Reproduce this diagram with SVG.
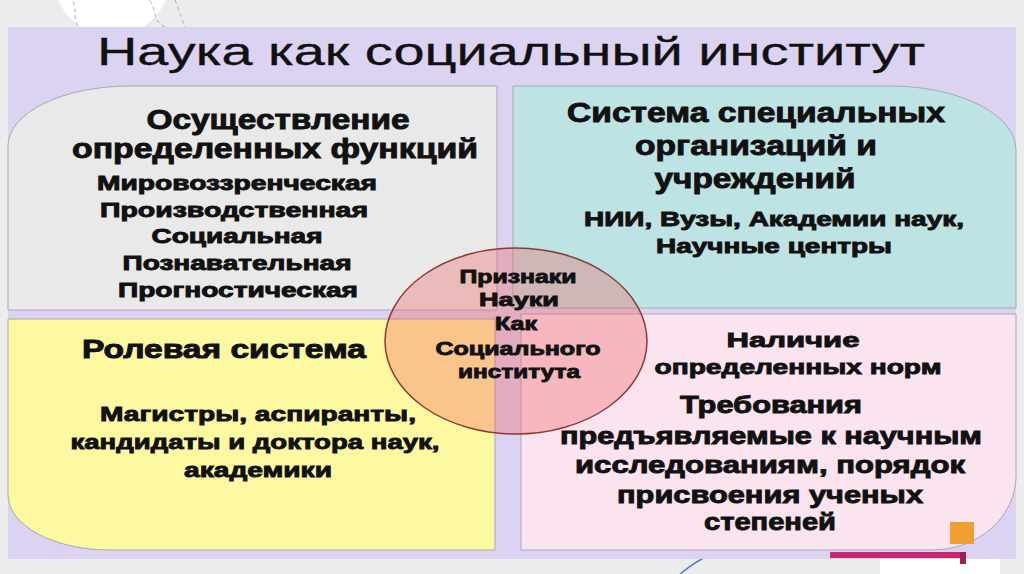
<svg xmlns="http://www.w3.org/2000/svg" width="1024" height="574" viewBox="0 0 1024 574">
<style>
.t{font-family:"Liberation Sans",Arial,sans-serif;font-weight:bold;fill:#111;stroke:#111;stroke-width:0.9;text-anchor:middle}
.q{stroke:#a8a8b0;stroke-width:1}
</style>
<rect width="1024" height="574" fill="#ececec"/>
<g id="decor" fill="none">
<circle cx="112" cy="-22" r="58" fill="#ffffff"/>
<path d="M70,-5 C80,10 70,20 80,27" stroke="#c8a888" stroke-dasharray="4 3"/>
<path d="M145,-5 C160,10 150,20 165,27" stroke="#c8a888" stroke-dasharray="4 3"/>
<path d="M175,0 L185,27" stroke="#c8a888" stroke-dasharray="4 3"/>
<rect x="880" y="559" width="120" height="15" fill="#ffffff"/>
<path d="M680,574 C690,566 698,560 708,556" stroke="#5a78c8" stroke-width="1.5"/>
</g>
<rect id="panel" x="8" y="27" width="1008" height="532" fill="#dcd3f2"/>
<g id="title"><text x="511" y="65" font-family="Liberation Sans,Arial,sans-serif" font-size="38" fill="#111" stroke="#111" stroke-width="0.3" text-anchor="middle" textLength="828" lengthAdjust="spacingAndGlyphs">Наука как социальный институт</text></g>
<g id="node-functions">
<path class="q" d="M8,146 A122,60 0 0 1 130,86 L497,86 L497,310 L8,310 Z" fill="#e9e9e9"/>
<text class="t" x="278" y="129" font-size="27" textLength="263" lengthAdjust="spacingAndGlyphs">Осуществление</text>
<text class="t" x="275" y="158" font-size="27" textLength="406" lengthAdjust="spacingAndGlyphs">определенных функций</text>
<text class="t" x="237" y="190" font-size="20" textLength="280" lengthAdjust="spacingAndGlyphs">Мировоззренческая</text>
<text class="t" x="234" y="217" font-size="20" textLength="268" lengthAdjust="spacingAndGlyphs">Производственная</text>
<text class="t" x="237" y="243" font-size="20" textLength="171" lengthAdjust="spacingAndGlyphs">Социальная</text>
<text class="t" x="237" y="270" font-size="20" textLength="229" lengthAdjust="spacingAndGlyphs">Познавательная</text>
<text class="t" x="238" y="297" font-size="20" textLength="240" lengthAdjust="spacingAndGlyphs">Прогностическая</text>
</g>
<g id="node-organizations">
<path class="q" d="M513,86 L890,86 A126,64 0 0 1 1016,150 L1016,308 L513,308 Z" fill="#bde3e4"/>
<text class="t" x="756" y="122" font-size="27" textLength="378" lengthAdjust="spacingAndGlyphs">Система специальных</text>
<text class="t" x="756" y="155" font-size="27" textLength="242" lengthAdjust="spacingAndGlyphs">организаций и</text>
<text class="t" x="755" y="188" font-size="27" textLength="201" lengthAdjust="spacingAndGlyphs">учреждений</text>
<text class="t" x="774" y="226" font-size="20" textLength="380" lengthAdjust="spacingAndGlyphs">НИИ, Вузы, Академии наук,</text>
<text class="t" x="774" y="253" font-size="20" textLength="236" lengthAdjust="spacingAndGlyphs">Научные центры</text>
</g>
<g id="node-roles">
<path class="q" d="M8,319 L495,319 L495,550 L110,550 A102,55 0 0 1 8,495 Z" fill="#fdf9a0"/>
<text class="t" x="224" y="358" font-size="25" textLength="284" lengthAdjust="spacingAndGlyphs">Ролевая система</text>
<text class="t" x="258" y="421" font-size="21" textLength="316" lengthAdjust="spacingAndGlyphs">Магистры, аспиранты,</text>
<text class="t" x="255" y="449" font-size="21" textLength="369" lengthAdjust="spacingAndGlyphs">кандидаты и доктора наук,</text>
<text class="t" x="258" y="477" font-size="21" textLength="148" lengthAdjust="spacingAndGlyphs">академики</text>
</g>
<g id="node-norms">
<path class="q" d="M521,314 L1016,314 L1016,476 A84,74 0 0 1 932,550 L521,550 Z" fill="#fbe3ef"/>
<text class="t" x="793" y="347" font-size="21" textLength="133" lengthAdjust="spacingAndGlyphs">Наличие</text>
<text class="t" x="798" y="374" font-size="21" textLength="287" lengthAdjust="spacingAndGlyphs">определенных норм</text>
<text class="t" x="771" y="413" font-size="24" textLength="182" lengthAdjust="spacingAndGlyphs">Требования</text>
<text class="t" x="771" y="444" font-size="24" textLength="422" lengthAdjust="spacingAndGlyphs">предъявляемые к научным</text>
<text class="t" x="770" y="473" font-size="24" textLength="390" lengthAdjust="spacingAndGlyphs">исследованиям, порядок</text>
<text class="t" x="770" y="503" font-size="24" textLength="306" lengthAdjust="spacingAndGlyphs">присвоения ученых</text>
<text class="t" x="770" y="530" font-size="24" textLength="132" lengthAdjust="spacingAndGlyphs">степеней</text>
</g>
<g id="decor-br">
<rect x="830" y="552" width="130" height="6" fill="#c8286e"/>
<rect x="950" y="522" width="24" height="22" fill="#f0a030"/>
<rect x="960" y="552" width="6" height="12" fill="#a0205a"/>
</g>
<g id="node-center">
<ellipse cx="516" cy="341" rx="131" ry="93" fill="#f06464" fill-opacity="0.35" stroke="#8a3a3a" stroke-width="1.5"/>
<text class="t" x="518" y="283" font-size="19" textLength="117" lengthAdjust="spacingAndGlyphs">Признаки</text>
<text class="t" x="519" y="306" font-size="19" textLength="80" lengthAdjust="spacingAndGlyphs">Науки</text>
<text class="t" x="516" y="330" font-size="19" textLength="42" lengthAdjust="spacingAndGlyphs">Как</text>
<text class="t" x="518" y="355" font-size="19" textLength="165" lengthAdjust="spacingAndGlyphs">Социального</text>
<text class="t" x="519" y="378" font-size="19" textLength="122" lengthAdjust="spacingAndGlyphs">института</text>
</g>
<g id="connectors"/>
</svg>
